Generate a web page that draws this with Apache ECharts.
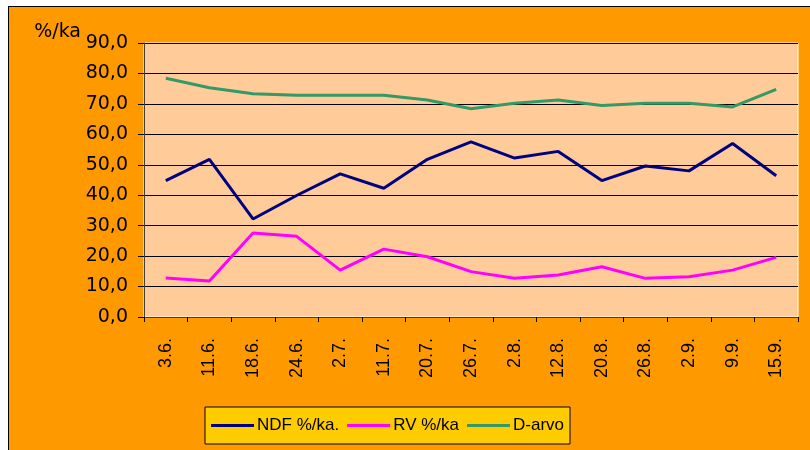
<!DOCTYPE html>
<html>
<head>
<meta charset="utf-8">
<script src="https://cdn.jsdelivr.net/npm/echarts@6/dist/echarts.min.js"></script>
<style>
    body { margin: 0; background: #ffffff; }
    #frame { position: absolute; left: 8px; top: 6px; width: 802px; height: 444px; border-top: 1px solid #000; border-left: 1px solid #000; background: #FF9900; }
    #main { width: 802px; height: 444px; }
</style>
</head>
<body>
<div id="frame"><div id="main"></div></div>
<script>
var dates = ['3.6.', '11.6.', '18.6.', '24.6.', '2.7.', '11.7.', '20.7.', '26.7.', '2.8.', '12.8.', '20.8.', '26.8.', '2.9.', '9.9.', '15.9.'];
var ndf = [44.8, 51.8, 32.2, 39.9, 47.0, 42.3, 51.8, 57.5, 52.2, 54.4, 44.8, 49.6, 48.0, 57.0, 46.4];
var rv = [12.8, 11.8, 27.6, 26.5, 15.4, 22.3, 19.8, 14.9, 12.7, 13.8, 16.5, 12.7, 13.2, 15.4, 19.6];
var darvo = [78.4, 75.3, 73.3, 72.8, 72.8, 72.8, 71.3, 68.4, 70.2, 71.3, 69.5, 70.2, 70.2, 69.0, 74.8];
var yUnit = '%/ka';

var myChart = echarts.init(document.getElementById('main'));
var font = 'Liberation Sans, Arial, sans-serif';
var option = {
    animation: false,
    textStyle: { fontFamily: font, color: '#000' },
    grid: {
        left: 135, top: 36, width: 654, height: 274,
        show: true,
        backgroundColor: '#FFCC99',
        borderColor: '#ffffff',
        borderWidth: 1
    },
    graphic: [{
        type: 'text',
        right: 730,
        top: 16,
        style: { text: yUnit, font: '19px DejaVu Sans', fill: '#000' }
    }],
    legend: {
        left: 196,
        top: 400,
        backgroundColor: '#FFCC00',
        borderColor: '#000',
        borderWidth: 1,
        padding: [10, 6, 10, 6],
        icon: 'rect',
        itemWidth: 43,
        itemHeight: 3,
        itemGap: 8,
        textStyle: { fontSize: 17, fontFamily: font, color: '#000', padding: [0, 0, 0, -2] },
        data: ['NDF %/ka.', 'RV %/ka', 'D-arvo']
    },
    xAxis: {
        type: 'category',
        data: dates,
        boundaryGap: true,
        axisLine: { lineStyle: { color: '#404040', width: 1 } },
        axisTick: { show: true, length: 5, inside: false, lineStyle: { color: '#000' } },
        axisLabel: {
            rotate: 90,
            fontSize: 18,
            color: '#000',
            margin: 21,
            interval: 0
        }
    },
    yAxis: {
        type: 'value',
        min: 0,
        max: 90,
        interval: 10,
        axisLine: { show: true, lineStyle: { color: '#404040', width: 1 } },
        axisTick: { show: true, length: 6, lineStyle: { color: '#000' } },
        splitLine: { show: true, lineStyle: { color: '#000', width: 1 } },
        axisLabel: {
            fontSize: 19,
            fontFamily: 'DejaVu Sans',
            color: '#000',
            margin: 16,
            formatter: function (v) { return v.toFixed(1).replace('.', ','); }
        }
    },
    series: [
        {
            name: 'NDF %/ka.',
            type: 'line',
            data: ndf,
            symbol: 'none',
            color: '#000080',
            lineStyle: { width: 3, color: '#000080' }
        },
        {
            name: 'RV %/ka',
            type: 'line',
            data: rv,
            symbol: 'none',
            color: '#FF00FF',
            lineStyle: { width: 3, color: '#FF00FF' }
        },
        {
            name: 'D-arvo',
            type: 'line',
            data: darvo,
            symbol: 'none',
            color: '#339966',
            lineStyle: { width: 3, color: '#339966' }
        }
    ]
};
myChart.setOption(option);
</script>
</body>
</html>
